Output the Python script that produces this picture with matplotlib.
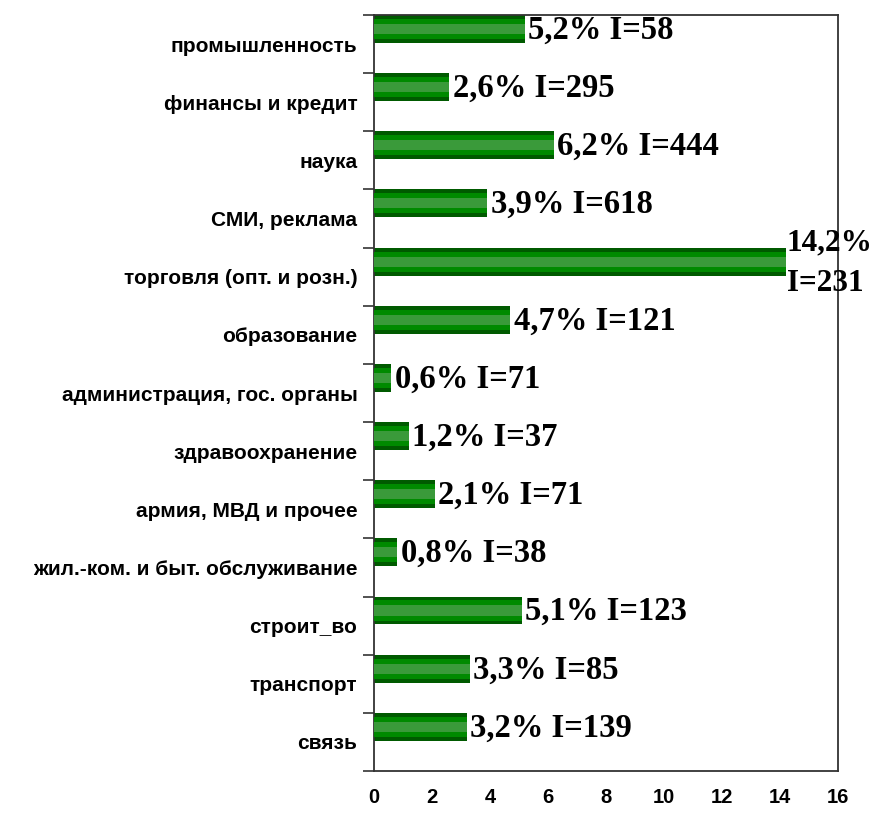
import matplotlib
matplotlib.use("Agg")
import matplotlib.pyplot as plt
import numpy as np

categories = ["промышленность", "финансы и кредит", "наука", "СМИ, реклама",
              "торговля (опт. и розн.)", "образование", "администрация, гос. органы",
              "здравоохранение", "армия, МВД и прочее", "жил.-ком. и быт. обслуживание",
              "строит_во", "транспорт", "связь"]
percent = [5.2, 2.6, 6.2, 3.9, 14.2, 4.7, 0.6, 1.2, 2.1, 0.8, 5.1, 3.3, 3.2]
counts = [58, 295, 444, 618, 231, 121, 71, 37, 71, 38, 123, 85, 139]
xticks = [0, 2, 4, 6, 8, 10, 12, 14, 16]

fig = plt.figure(figsize=(8.74, 8.13), dpi=100)
ax = fig.add_axes([0.428, 0.0517, 0.531, 0.9298])

n = len(categories)
y = np.arange(n)
bar_h = 0.48
yc = y - 0.5 + bar_h / 2

ax.barh(yc, percent, height=bar_h, color="#005a00", edgecolor="none", zorder=2)
ax.barh(yc, percent, height=bar_h * 0.72, color="#008a00", edgecolor="none", zorder=3)
ax.barh(yc, percent, height=bar_h * 0.36, color="#3a9a3a", edgecolor="none", zorder=4)

for yi, p, c in zip(yc, percent, counts):
    ptxt = f"{p:.1f}".replace(".", ",") + "%"
    if p > 13:
        txt = f"{ptxt}\nI={c}"
        ax.text(p + 0.02, yi + 0.03, txt, ha="left", va="center", fontsize=22.5,
                fontweight="bold", family="Liberation Serif", linespacing=1.5,
                clip_on=False, zorder=5)
    else:
        txt = f"{ptxt} I={c}"
        ax.text(p + 0.12, yi + 0.02, txt, ha="left", va="center", fontsize=23.5,
                fontweight="bold", family="Liberation Serif", clip_on=False, zorder=5)

ax.set_xlim(0, 16)
ax.set_ylim(n - 0.5, -0.5)
ax.set_xticks(xticks)
ax.set_xticklabels([str(t) for t in xticks], fontsize=14.5, fontweight="bold",
                   family="Liberation Sans")
ax.tick_params(axis="x", length=0, pad=12)
ax.set_yticks(y)
ax.set_yticklabels(categories, fontsize=15, fontweight="bold", family="Liberation Sans")
ax.tick_params(axis="y", which="major", length=0, pad=12)
ax.set_yticks(np.arange(n + 1) - 0.5, minor=True)
ax.tick_params(axis="y", which="minor", length=8, width=1.2, color="#333333")

for s in ax.spines.values():
    s.set_linewidth(1.3)
    s.set_color("#333333")

fig.savefig("out.png", dpi=100)
